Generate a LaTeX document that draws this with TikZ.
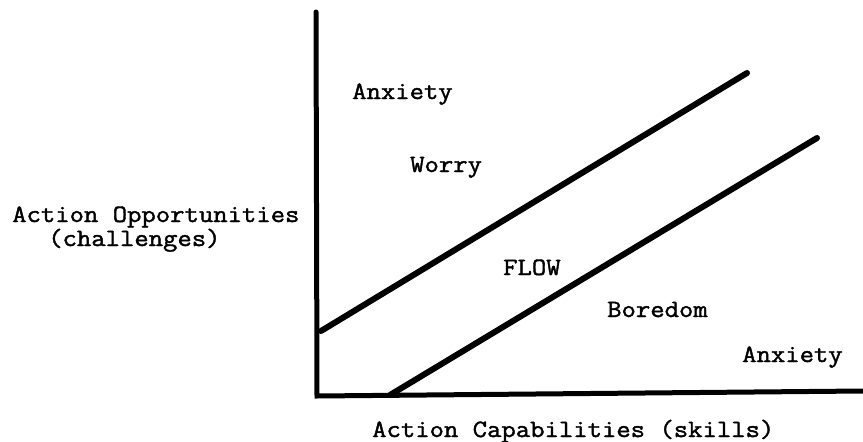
\documentclass[tikz,border=0pt]{standalone}
\usepackage{fontspec}
\newfontfamily\typer[FakeBold=1.6, FakeStretch=1.12]{Latin Modern Mono}
\usepackage{tikz}

\tikzset{
	lbl/.style={font=\typer\fontsize{24.9}{28}\selectfont, inner sep=0pt, anchor=base west},
	axis/.style={line width=5pt, line cap=round},
	band/.style={line width=6pt, line cap=round}
}

\begin{document}
\begin{tikzpicture}[x=1pt, y=-1pt]
			\useasboundingbox (0,0) rectangle (863,442);

			\coordinate (top) at (316,12);
			\coordinate (origin) at (317,396);
			\coordinate (right) at (863,391);
			\draw[axis] (top) -- (origin) -- (right);

			\coordinate (upstart) at (321,331);
			\coordinate (upend) at (747,73);
			\draw[band] (upstart) -- (upend);

			\coordinate (lowstart) at (390,395);
			\coordinate (lowend) at (817,138);
			\draw[band] (lowstart) -- (lowend);

			\node[lbl] (anxtop) at (352,99) {Anxiety};
			\node[lbl] (worry) at (410,172) {Worry};
			\node[lbl] (flow) at (503,275) {FLOW};
			\node[lbl] (boredom) at (607,317) {Boredom};
			\node[lbl] (anxbot) at (742,362) {Anxiety};

			\node[lbl] (yname) at (12,222) {Action Opportunities};
			\node[lbl] (ysub) at (48,246) {(challenges)};
			\node[lbl] (xname) at (372,437) {Action Capabilities (skills)};
		\end{tikzpicture}
\end{document}
